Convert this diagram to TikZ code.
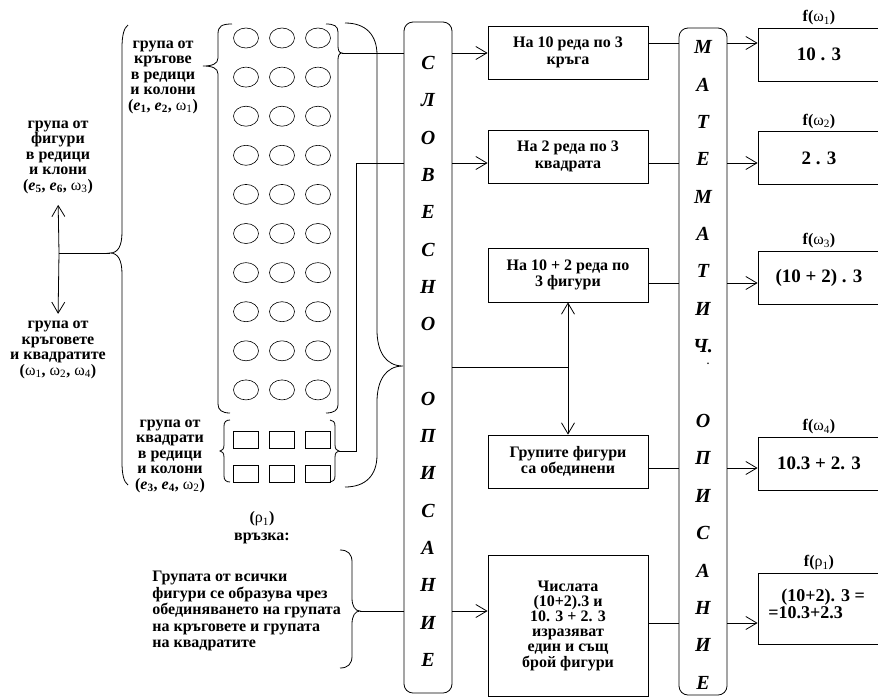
\documentclass[tikz,border=0pt]{standalone}
\usepackage{fontspec}
\setmainfont{Liberation Serif}
\usetikzlibrary{arrows.meta}
\newcommand{\wsub}[1]{{\mdseries ω\textsubscript{#1}}}
\newcommand{\esub}[1]{\textit{e}\textsubscript{#1}}

\begin{document}
\begin{tikzpicture}[
  x=1pt, y=-1pt, line width=0.8pt,
  txt/.style={font=\fontsize{16}{15.5}\selectfont\bfseries, align=center, inner sep=1pt},
  box/.style={draw, minimum width=160pt, minimum height=53pt, inner sep=2pt,
              font=\fontsize{16}{16.5}\selectfont\bfseries, align=center},
  res/.style={draw, minimum width=122pt, minimum height=53pt,
              font=\fontsize{19}{19}\selectfont\bfseries, align=center},
  col/.style={draw, rounded corners=9pt, minimum width=48pt},
  vlet/.style={font=\fontsize{20}{20}\selectfont\bfseries\itshape, inner sep=0pt},
  lbl/.style={font=\fontsize{16}{16}\selectfont\bfseries, inner sep=1pt, label distance=1pt},
  arr/.style={-{Straight Barb[length=11pt, width=13pt]}},
]
\clip (0,0) rectangle (878,697);

% left texts
\node[txt] (figs) at (58,157) {група от\\фигури\\в редици\\и клони\\(\esub{5}, \esub{6}, \wsub{3})};
\node[txt] (both) at (58,350) {група от\\кръговете\\и квадратите\\(\wsub{1}, \wsub{2}, \wsub{4})};
\node[txt] (circt) at (163,77) {група от\\кръгове\\в редици\\и колони\\(\esub{1}, \esub{2}, \wsub{1})};
\node[txt] (sqt) at (170,456) {група от\\квадрати\\в редици\\и колони\\(\esub{3}, \esub{4}, \wsub{2})};
\node[txt, font=\fontsize{16}{18}\selectfont\bfseries] (relt) at (262,528) {({\mdseries ρ\textsubscript{1}})\\връзка:};
\node[txt, font=\fontsize{16}{16.5}\selectfont\bfseries, align=left, anchor=west] (unt) at (151,611) {Групата от всички\\фигури се образува чрез\\обединяването на групата\\на кръговете и групата\\на квадратите};

% figures
\foreach \r in {0,...,9}
  \foreach \c in {246,282,318}
    \draw[line width=0.6pt] (\c,{38+39.1*\r}) ellipse [x radius=12.5pt, y radius=10pt];
\foreach \yy in {431,465}
  \foreach \c in {246,282,318}
    \draw (\c-12.5,\yy) rectangle (\c+12.5,\yy+17);

% braces
\draw (128,25) .. controls (124,28) and (122,35) .. (122,48) -- (122,232)
  .. controls (122,246) and (118,253) .. (110,253) .. controls (118,253) and (122,260) .. (122,274)
  -- (122,462) .. controls (122,475) and (124,482) .. (128,485);
\draw (232,24) .. controls (222,24) and (218,26) .. (218,34) -- (218,58)
  .. controls (218,64) and (212,66) .. (203,66) .. controls (212,66) and (218,68) .. (218,74)
  -- (218,404) .. controls (218,410) and (222,413) .. (230,413);
\draw (326,24) .. controls (334,24) and (338,26) .. (338,32) -- (338,46)
  .. controls (338,50) and (339,53) .. (342,53) .. controls (339,53) and (338,56) .. (338,60)
  -- (338,405) .. controls (338,410) and (334,413) .. (326,413);
\draw (230,420) .. controls (226,420) and (224,422) .. (224,426) -- (224,445)
  .. controls (224,449) and (222,451) .. (220,451) .. controls (222,451) and (224,453) .. (224,457)
  -- (224,476) .. controls (224,480) and (226,482) .. (230,482);
\draw (330,420) .. controls (333,420) and (335,422) .. (335,426) -- (335,445)
  .. controls (335,449) and (337,451) .. (339,451) .. controls (337,451) and (335,453) .. (335,457)
  -- (335,476) .. controls (335,480) and (333,482) .. (330,482);
\draw (345,23) .. controls (366,23) and (377,35) .. (377,55) -- (377,330)
  .. controls (377,352) and (386,366) .. (403,366) .. controls (386,366) and (377,380) .. (377,402)
  -- (377,455) .. controls (377,475) and (366,487) .. (345,487);
\draw (340,550) .. controls (348,550) and (352,554) .. (352,562) -- (352,598)
  .. controls (352,606) and (355,611) .. (360,611) .. controls (355,611) and (352,616) .. (352,624)
  -- (352,656) .. controls (352,664) and (348,668) .. (340,668);

% verbal and mathematical description
\node[col, minimum height=671pt] (slov) at (428,357.5) {};
\node[col, minimum height=667pt] (ma) at (703,361.5) {};
\foreach \l [count=\i from 0] in {С,Л,О,В,Е,С,Н,О,{},О,П,И,С,А,Н,И,Е}
  \node[vlet] (sl\i) at (428,{63+37.3*\i}) {\l};
\foreach \l [count=\i from 0] in {М,А,Т,Е,М,А,Т,И,Ч.,{},О,П,И,С,А,Н,И,Е}
  \node[vlet] (ma\i) at (703,{47+37.4*\i}) {\l};
\node[font=\fontsize{10}{10}\selectfont\bfseries, inner sep=0pt] (madot) at (708,364) {.};

% boxes
\node[box] (b1) at (568,52.5) {На 10 реда по 3\\кръга};
\node[box] (b2) at (568,156.5) {На 2 реда по 3\\квадрата};
\node[box, minimum height=54pt] (b3) at (568,275) {На 10 + 2 реда по\\3 фигури};
\node[box] (b4) at (568,461.5) {Групите фигури\\са обединени};
\node[box, minimum height=141pt, font=\fontsize{16}{15.2}\selectfont\bfseries] (b5) at (568,625.5) {Числата\\(10+2).3 и\\10. 3 + 2. 3\\изразяват\\един и същ\\брой фигури};

\node[res, label={[lbl]above:f(\wsub{1})}] (r1) at (819,54.5) {10 . 3};
\node[res, label={[lbl]above:f(\wsub{2})}] (r2) at (819,158) {2 . 3};
\node[res, label={[lbl]above:f(\wsub{3})}] (r3) at (819,277.5) {(10 + 2) . 3};
\node[res, label={[lbl]above:f(\wsub{4})}] (r4) at (819,463.5) {10.3 + 2. 3};
\node[res, minimum height=71pt, label={[lbl]above:f({\mdseries ρ\textsubscript{1}})}] (r5) at (819,608.5) {};
\node[txt, font=\fontsize{18}{17}\selectfont\bfseries, align=left, anchor=west] (r5t) at (767,603.5) {\hspace{13pt}(10+2). 3 =\\=10.3+2.3};

% levels
\coordinate (jn) at (59,253);
\coordinate (ltip) at (110,253);
\coordinate (circtip) at (342,53);
\coordinate (sqtip) at (339,451);
\coordinate (up) at (356,163);
\coordinate (btip) at (403,366);
\coordinate (mid) at (568,367);
\coordinate (reltip) at (360,611);
\coordinate (lvA) at (0,43);
\coordinate (lvC) at (0,283);
\coordinate (lvD) at (0,468);
\coordinate (lvE) at (0,623);

% connectors
\draw (jn) -- (ltip);
\draw[arr, shorten >=10pt] (jn) -- (figs.south);
\draw[arr, shorten >=6pt] (jn) -- (both.north);
\draw (circtip) -- (slov.west |- circtip);
\draw (sqtip) -| (up) -- (slov.west |- up);
\draw[arr] (slov.east |- circtip) -- (b1.west |- circtip);
\draw[arr] (slov.east |- up) -- (b2.west |- up);
\draw (slov.east |- mid) -- (mid);
\draw[arr] (mid) -- (b3.south);
\draw[arr] (mid) -- (b4.north);
\draw (reltip) -- (slov.west |- reltip);
\draw[arr] (slov.east |- reltip) -- (b5.west |- reltip);

\draw (b1.east |- lvA) -- (ma.west |- lvA);
\draw (b2.east |- up) -- (ma.west |- up);
\draw (b3.east |- lvC) -- (ma.west |- lvC);
\draw (b4.east |- lvD) -- (ma.west |- lvD);
\draw (b5.east |- lvE) -- (ma.west |- lvE);
\draw[arr] (ma.east |- lvA) -- (r1.west |- lvA);
\draw[arr] (ma.east |- up) -- (r2.west |- up);
\draw[arr] (ma.east |- lvC) -- (r3.west |- lvC);
\draw[arr] (ma.east |- lvD) -- (r4.west |- lvD);
\draw[arr] (ma.east |- lvE) -- (r5.west |- lvE);

\end{tikzpicture}
\end{document}
